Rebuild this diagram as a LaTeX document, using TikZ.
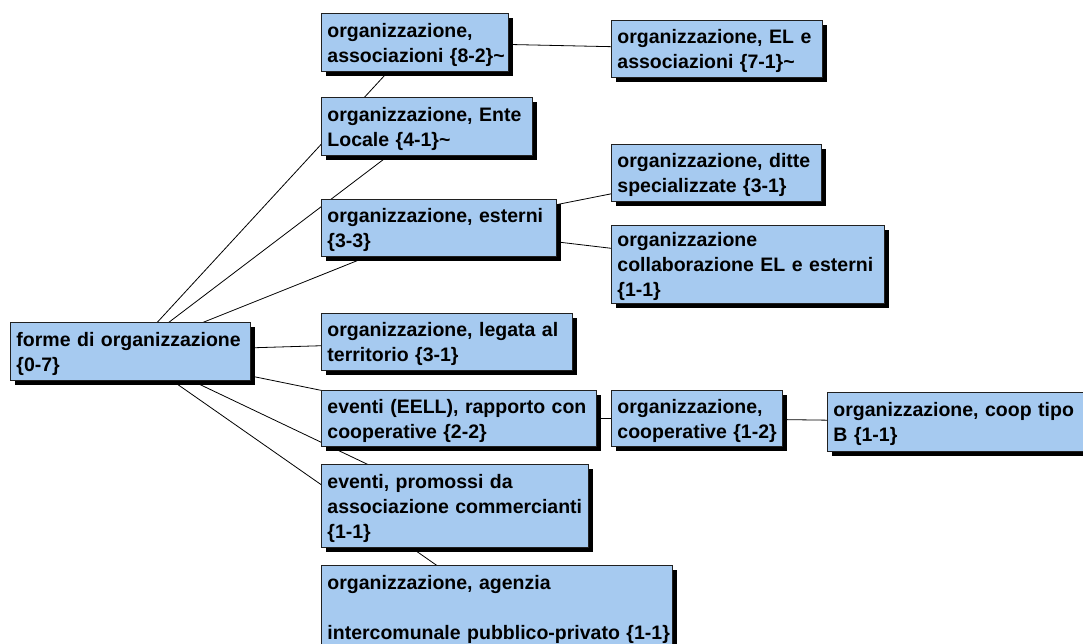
\documentclass[tikz,border=0pt]{standalone}
\usepackage{fontspec}
\setmainfont{Liberation Sans}
\usetikzlibrary{backgrounds,shadows}
\definecolor{boxfill}{HTML}{A6CAF0}
\definecolor{boxline}{HTML}{202020}
% one left-aligned, unbreakable block of lines per box, set a little low
\newcommand\boxlines[1]{\raisebox{-2.5pt}[\height][\depth]{\begin{tabular}{@{}l@{}}#1\end{tabular}}}

\begin{document}
\begin{tikzpicture}[x=1pt,y=-1pt,
  concept/.style={draw=boxline, line width=0.9pt, fill=boxfill,
    anchor=north west, inner xsep=6pt, inner ysep=0pt,
    font=\fontsize{19.5}{25}\selectfont\bfseries,
    drop shadow={shadow xshift=5pt, shadow yshift=-5pt, fill=black, opacity=1}},
  link/.style={draw=black, line width=0.8pt}]

\useasboundingbox (0,0) rectangle (1083,643);

% root concept
\node[concept, text width=228pt, minimum height=58pt] (root) at (10,322)
  {\boxlines{forme di organizzazione\\\{0-7\}}};

% first level
\node[concept, text width=175pt, minimum height=58pt] (assoc) at (321,13)
  {\boxlines{organizzazione,\\associazioni \{8-2\}\textasciitilde}};
\node[concept, text width=199pt, minimum height=58pt] (ente) at (321,97)
  {\boxlines{organizzazione, Ente\\Locale \{4-1\}\textasciitilde}};
\node[concept, text width=223pt, minimum height=57pt] (esterni) at (321,199)
  {\boxlines{organizzazione, esterni\\\{3-3\}}};
\node[concept, text width=239pt, minimum height=57pt] (legata) at (321,313)
  {\boxlines{organizzazione, legata al\\territorio \{3-1\}}};
\node[concept, text width=263pt, minimum height=56pt] (eell) at (321,390)
  {\boxlines{eventi (EELL), rapporto con\\cooperative \{2-2\}}};
\node[concept, text width=255pt, minimum height=83pt] (promossi) at (321,464)
  {\boxlines{eventi, promossi da\\associazione commercianti\\\{1-1\}}};
\node[concept, text width=339pt, minimum height=84pt] (agenzia) at (321,565)
  {\boxlines{organizzazione, agenzia\\\mbox{}\\intercomunale pubblico-privato \{1-1\}}};

% second level
\node[concept, text width=199pt, minimum height=57pt] (elassoc) at (611,20)
  {\boxlines{organizzazione, EL e\\associazioni \{7-1\}\textasciitilde}};
\node[concept, text width=198pt, minimum height=57pt] (ditte) at (611,144)
  {\boxlines{organizzazione, ditte\\specializzate \{3-1\}}};
\node[concept, text width=261pt, minimum height=78pt] (collab) at (611,225)
  {\boxlines{organizzazione\\collaborazione EL e esterni\\\{1-1\}}};
\node[concept, text width=159pt, minimum height=56pt] (coop) at (611,390)
  {\boxlines{organizzazione,\\cooperative \{1-2\}}};

% third level
\node[concept, text width=258pt, minimum height=59pt] (coopb) at (827,392)
  {\boxlines{organizzazione, coop tipo\\B \{1-1\}}};

% connectors run centre to centre, hidden behind the boxes
\begin{scope}[on background layer]
  \draw[link] (root.center) -- (assoc.center);
  \draw[link] (root.center) -- (ente.center);
  \draw[link] (root.center) -- (esterni.center);
  \draw[link] (root.center) -- (legata.center);
  \draw[link] (root.center) -- (eell.center);
  \draw[link] (root.center) -- (promossi.center);
  \draw[link] (root.center) -- (agenzia.center);
  \draw[link] (assoc.center) -- (elassoc.center);
  \draw[link] (esterni.center) -- (ditte.center);
  \draw[link] (esterni.center) -- (collab.center);
  \draw[link] (eell.center) -- (coop.center);
  \draw[link] (coop.center) -- (coopb.center);
\end{scope}
\end{tikzpicture}
\end{document}
